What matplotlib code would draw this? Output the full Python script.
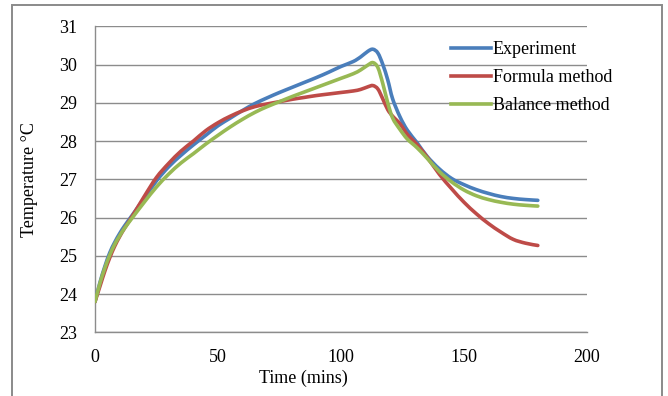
import matplotlib
matplotlib.use("Agg")
import numpy as np
import matplotlib.pyplot as plt
from matplotlib.patches import Rectangle, PathPatch
from matplotlib.path import Path
from matplotlib.lines import Line2D

plt.rcParams['font.family'] = ['Liberation Serif', 'DejaVu Serif']

# Time axis (minutes)
time_min = [0, 2, 4, 6, 8, 10, 12, 15, 20, 25, 30, 35, 40, 45, 50, 55, 60, 65,
            70, 75, 80, 85, 90, 95, 100, 105, 108, 111, 113, 115, 117, 119,
            121, 124, 127, 131, 135, 140, 145, 150, 155, 160, 165, 170, 175, 180]

experiment = [23.8, 24.3, 24.72, 25.08, 25.35, 25.58, 25.78, 26.05, 26.5, 26.96,
              27.33, 27.63, 27.9, 28.15, 28.4, 28.6, 28.8, 28.98, 29.13, 29.27,
              29.4, 29.53, 29.66, 29.8, 29.95, 30.08, 30.2, 30.35, 30.4, 30.3,
              30.0, 29.6, 29.1, 28.63, 28.28, 27.95, 27.6, 27.27, 27.02, 26.86,
              26.73, 26.63, 26.55, 26.5, 26.47, 26.45]

formula_method = [23.8, 24.2, 24.6, 24.95, 25.25, 25.5, 25.72, 26.02, 26.55,
                  27.05, 27.42, 27.74, 28.0, 28.27, 28.48, 28.65, 28.79, 28.9,
                  28.97, 29.03, 29.09, 29.14, 29.19, 29.23, 29.27, 29.31, 29.35,
                  29.42, 29.45, 29.36, 29.1, 28.82, 28.65, 28.45, 28.17, 27.9,
                  27.58, 27.13, 26.75, 26.4, 26.1, 25.84, 25.62, 25.43, 25.33,
                  25.27]

balance_method = [23.8, 24.28, 24.68, 25.02, 25.3, 25.52, 25.72, 25.98, 26.4,
                  26.8, 27.14, 27.43, 27.67, 27.92, 28.15, 28.37, 28.57, 28.75,
                  28.9, 29.03, 29.16, 29.28, 29.4, 29.52, 29.64, 29.76, 29.86,
                  29.99, 30.05, 29.92, 29.5, 29.0, 28.6, 28.3, 28.05, 27.82,
                  27.55, 27.2, 26.93, 26.72, 26.57, 26.47, 26.4, 26.35, 26.32,
                  26.3]

series_names = ["Experiment", "Formula method", "Balance method"]
series_colors = ["#4A7EBB", "#BE4B48", "#98B954"]
x_ticks = [0, 50, 100, 150, 200]
y_ticks = [23, 24, 25, 26, 27, 28, 29, 30, 31]


def smooth_path(xs, ys):
    """Cubic Bezier path through every data point (Catmull-Rom tangents)."""
    pts = np.column_stack([xs, ys]).astype(float)
    n = len(pts)
    verts = [pts[0]]
    codes = [Path.MOVETO]
    for i in range(n - 1):
        p_prev = pts[max(i - 1, 0)]
        p0 = pts[i]
        p1 = pts[i + 1]
        p_next = pts[min(i + 2, n - 1)]
        c1 = p0 + (p1 - p_prev) / 6.0
        c2 = p1 - (p_next - p0) / 6.0
        verts += [c1, c2, p1]
        codes += [Path.CURVE4] * 3
    return Path(verts, codes)


W, H = 668, 396
fig = plt.figure(figsize=(W / 100, H / 100), dpi=100)
ax = fig.add_axes([95 / W, 1 - 332.3 / H, (587 - 95) / W, (332.3 - 26.3) / H])

LW = 2.6
handles = []
for vals, name, col in zip([experiment, formula_method, balance_method],
                           series_names, series_colors):
    patch = PathPatch(smooth_path(time_min, vals), facecolor='none',
                      edgecolor=col, lw=LW, capstyle='round',
                      joinstyle='round', transform=ax.transData, zorder=3)
    ax.add_patch(patch)
    handles.append(Line2D([], [], color=col, lw=LW, label=name))

ax.set_xlim(0, 200)
ax.set_ylim(23, 31)
ax.set_xticks(x_ticks)
ax.set_yticks(y_ticks)
ax.tick_params(axis='both', length=0, labelsize=13, colors='black')
ax.tick_params(axis='y', pad=13)
ax.tick_params(axis='x', pad=12)
ax.grid(axis='y', color='#8c8c8c', lw=1.0)
ax.set_axisbelow(True)
for side in ['right', 'top']:
    ax.spines[side].set_visible(False)
for side in ['left', 'bottom']:
    ax.spines[side].set_color('#8c8c8c')
    ax.spines[side].set_linewidth(1.0)

fig.text(303 / W, 1 - 378 / H, "Time (mins)", ha='center', va='center', fontsize=13)
fig.text(30 / W, 1 - 180 / H, "Temperature \u00b0C", ha='center', va='center',
         rotation=90, fontsize=13)

ax.legend(handles=handles, loc='upper left', bbox_to_anchor=(451 / W, 1 - 41 / H),
          bbox_transform=fig.transFigure, frameon=False, fontsize=13,
          handlelength=2.2, handletextpad=0.1, labelspacing=0.62,
          borderpad=0, borderaxespad=0)

# Outer chart border
fig.patches.append(Rectangle((12 / W, -0.02), (662 - 12) / W, 1 - 5 / H + 0.02,
                             transform=fig.transFigure, fill=False,
                             edgecolor='#8a8a8a', lw=1.4))

fig.savefig("out.png", dpi=100)
